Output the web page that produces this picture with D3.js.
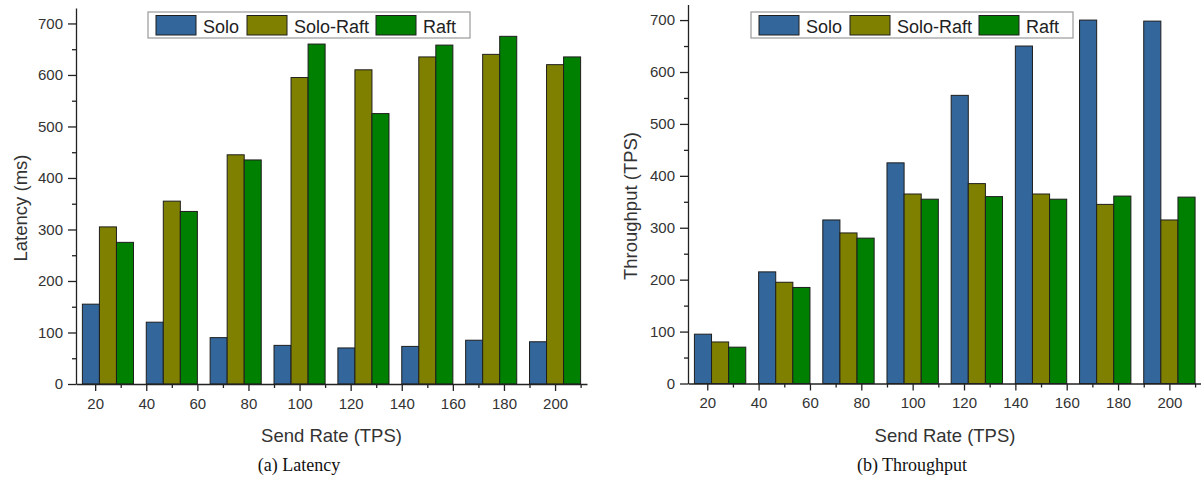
<!DOCTYPE html>
<html>
<head>
<meta charset="utf-8">
<script src="https://cdn.jsdelivr.net/npm/d3@7"></script>
<style>
  html, body { margin: 0; padding: 0; background: #fff; }
  svg { display: block; }
  .axis path, .axis line { stroke: #222; stroke-width: 1.3; }
  .axis text { font-family: "Liberation Sans", Arial, sans-serif; font-size: 15px; fill: #333; }
</style>
</head>
<body>
<svg id="chart" width="1201" height="480"></svg>
<script>
// Send rates where each group of bars sits, and the labelled x ticks
const sendRates = [25, 50, 75, 100, 125, 150, 175, 200];
const xTickLabels = [20, 40, 60, 80, 100, 120, 140, 160, 180, 200];
const yTickLabels = [0, 100, 200, 300, 400, 500, 600, 700];
const seriesNames = ["Solo", "Solo-Raft", "Raft"];
const seriesColors = ["#33669a", "#808000", "#008000"];

// Latency (ms)
const latencySolo = [155, 120, 90, 75, 70, 73, 85, 82];
const latencySoloRaft = [305, 355, 445, 595, 610, 635, 640, 620];
const latencyRaft = [275, 335, 435, 660, 525, 658, 675, 635];

// Throughput (TPS)
const throughputSolo = [95, 215, 315, 425, 555, 650, 700, 698];
const throughputSoloRaft = [80, 195, 290, 365, 385, 365, 345, 315];
const throughputRaft = [70, 185, 280, 355, 360, 355, 361, 359];

const panels = [
  {
    series: [latencySolo, latencySoloRaft, latencyRaft],
    yTitle: "Latency (ms)", caption: "(a) Latency",
    left: 76, right: 587, top: 8, bottom: 384,
    yTitleX: 27, xTitleX: 331.5, legendX: 148, captionX: 299
  },
  {
    series: [throughputSolo, throughputSoloRaft, throughputRaft],
    yTitle: "Throughput (TPS)", caption: "(b) Throughput",
    left: 688, right: 1201.5, top: 4.5, bottom: 383.5,
    yTitleX: 637, xTitleX: 945, legendX: 751, captionX: 912
  }
];

const svg = d3.select("#chart");
const groupWidth = 20;                       // in send-rate units
const barWidth = groupWidth / seriesNames.length;

panels.forEach(p => {
  const x = d3.scaleLinear().domain([12.5, 212.5]).range([p.left, p.right]);
  const y = d3.scaleLinear().domain([0, 730]).range([p.bottom, p.top]);
  const g = svg.append("g");

  // bars
  p.series.forEach((vals, si) => {
    g.append("g").selectAll("rect")
      .data(vals.map((v, i) => ({ rate: sendRates[i], v })))
      .join("rect")
      .attr("x", d => x(d.rate - groupWidth / 2 + si * barWidth))
      .attr("width", d => x(d.rate - groupWidth / 2 + (si + 1) * barWidth) - x(d.rate - groupWidth / 2 + si * barWidth))
      .attr("y", d => y(d.v))
      .attr("height", d => y(0) - y(d.v))
      .attr("fill", seriesColors[si])
      .attr("stroke", "#1e1e1e")
      .attr("stroke-width", 1);
  });

  // x axis: labelled major ticks plus minor ticks halfway between
  const xMinor = d3.range(30, 211, 20);
  g.append("g").attr("class", "axis")
    .attr("transform", `translate(0,${p.bottom})`)
    .call(d3.axisBottom(x).tickValues(xMinor).tickSize(4).tickFormat(""))
    .call(a => a.select(".domain").remove());
  g.append("g").attr("class", "axis")
    .attr("transform", `translate(0,${p.bottom})`)
    .call(d3.axisBottom(x).tickValues(xTickLabels).tickSize(7).tickSizeOuter(0).tickPadding(7).tickFormat(d3.format("d")));

  // y axis
  const yMinor = d3.range(50, 730, 100);
  g.append("g").attr("class", "axis")
    .attr("transform", `translate(${p.left},0)`)
    .call(d3.axisLeft(y).tickValues(yMinor).tickSize(4).tickFormat(""))
    .call(a => a.select(".domain").remove());
  g.append("g").attr("class", "axis")
    .attr("transform", `translate(${p.left},0)`)
    .call(d3.axisLeft(y).tickValues(yTickLabels).tickSize(8).tickSizeOuter(0).tickPadding(5).tickFormat(d3.format("d")));

  // axis titles
  g.append("text")
    .attr("transform", `translate(${p.yTitleX},${(p.top + p.bottom) / 2 + 12}) rotate(-90)`)
    .attr("text-anchor", "middle")
    .style("font-family", "'Liberation Sans', Arial, sans-serif")
    .style("font-size", "18.5px").style("fill", "#333")
    .text(p.yTitle);
  g.append("text")
    .attr("x", p.xTitleX)
    .attr("y", 441.5)
    .attr("text-anchor", "middle")
    .style("font-family", "'Liberation Sans', Arial, sans-serif")
    .style("font-size", "18.5px").style("fill", "#333")
    .text("Send Rate (TPS)");

  // caption under each panel
  g.append("text")
    .attr("x", p.captionX).attr("y", 471)
    .attr("text-anchor", "middle")
    .style("font-family", "'Liberation Serif', 'Times New Roman', serif")
    .style("font-size", "18px").style("fill", "#111")
    .text(p.caption);

  // legend
  const lg = g.append("g").attr("transform", `translate(${p.legendX},12)`);
  lg.append("rect").attr("width", 322).attr("height", 26)
    .attr("fill", "#fff").attr("stroke", "#999").attr("stroke-width", 1.2);
  const entryX = [8, 99, 228];
  seriesNames.forEach((name, si) => {
    const e = lg.append("g").attr("transform", `translate(${entryX[si]},0)`);
    e.append("rect").attr("x", 0).attr("y", 3.5).attr("width", 40).attr("height", 19.5)
      .attr("fill", seriesColors[si]).attr("stroke", "#1e1e1e").attr("stroke-width", 1);
    e.append("text").attr("x", 47).attr("y", 20.5)
      .style("font-family", "'Liberation Sans', Arial, sans-serif")
      .style("font-size", "18px").style("fill", "#222")
      .text(name);
  });
});
</script>
</body>
</html>
